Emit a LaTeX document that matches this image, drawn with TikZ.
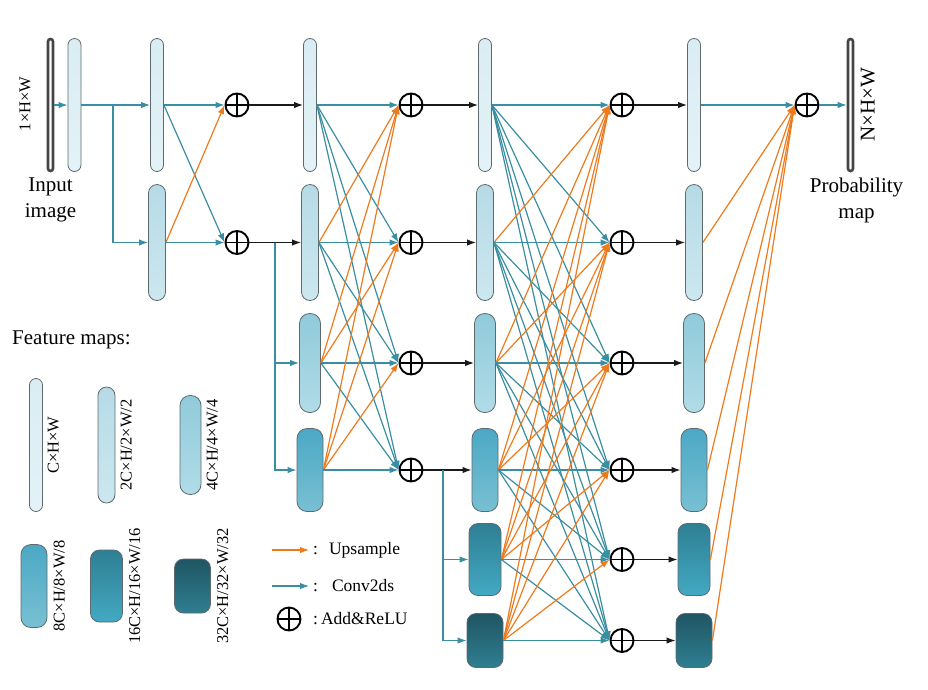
\documentclass[tikz,border=0pt]{standalone}
\usepackage{fontspec}
\setmainfont{Liberation Serif}
\usepackage{xcolor}
\definecolor{convColor}{HTML}{3A8EA1}
\definecolor{upColor}{HTML}{EE7A1E}
\definecolor{addColor}{HTML}{1A1A1A}
\definecolor{mapBorder}{HTML}{5F6A6E}
\definecolor{imgBorder}{HTML}{454545}
\definecolor{mapOneTop}{HTML}{DAEDF3}
\definecolor{mapOneBot}{HTML}{E3F2F7}
\definecolor{mapTwoTop}{HTML}{B6DBE6}
\definecolor{mapTwoBot}{HTML}{CCE7EF}
\definecolor{mapThreeTop}{HTML}{90CAD9}
\definecolor{mapThreeBot}{HTML}{B0DCE7}
\definecolor{mapFourTop}{HTML}{4BA8C4}
\definecolor{mapFourBot}{HTML}{79C0D3}
\definecolor{mapFiveTop}{HTML}{2E7F93}
\definecolor{mapFiveBot}{HTML}{43A9C3}
\definecolor{mapSixTop}{HTML}{205564}
\definecolor{mapSixBot}{HTML}{2F7F91}
\usepackage{tikz}
\usetikzlibrary{positioning,calc,arrows.meta}
\tikzset{
  mapBase/.style={
    rectangle,
    draw=mapBorder,
    line width=0.8pt,
    inner sep=0pt
 },
  map1/.style={mapBase, minimum width=13pt, minimum height=133pt, rounded corners=6.5pt,
    top color=mapOneTop, bottom color=mapOneBot},
  map2/.style={mapBase, minimum width=17pt, minimum height=116pt, rounded corners=8.5pt,
    top color=mapTwoTop, bottom color=mapTwoBot},
  map3/.style={mapBase, minimum width=21pt, minimum height=99pt, rounded corners=10pt,
    top color=mapThreeTop, bottom color=mapThreeBot},
  map4/.style={mapBase, minimum width=26pt, minimum height=83pt, rounded corners=10pt,
    top color=mapFourTop, bottom color=mapFourBot},
  map5/.style={mapBase, minimum width=32pt, minimum height=72pt, rounded corners=9pt,
    top color=mapFiveTop, bottom color=mapFiveBot},
  map6/.style={mapBase, minimum width=36pt, minimum height=54pt, rounded corners=9pt,
    top color=mapSixTop, bottom color=mapSixBot},
  imgBar/.style={
    rectangle,
    draw=imgBorder,
    fill=white,
    line width=2.6pt,
    minimum width=5pt,
    minimum height=132pt,
    rounded corners=2.5pt,
    inner sep=0pt
 },
  addNode/.style={
    circle,
    draw=black,
    line width=1.9pt,
    minimum size=23pt,
    inner sep=0pt,
    path picture={
      \draw[line width=1.4pt] (path picture bounding box.north) -- (path picture bounding box.south);
      \draw[line width=1.4pt] (path picture bounding box.west) -- (path picture bounding box.east);
    }
 },
  convArrow/.style={
    -{Latex[length=9pt,width=6.5pt]},
    line width=1.2pt,
    color=convColor
 },
  upArrow/.style={
    -{Latex[length=9pt,width=6.5pt]},
    line width=1.2pt,
    color=upColor
 },
  addArrow/.style={
    -{Latex[length=9pt,width=6.5pt]},
    line width=1.4pt,
    color=addColor
 },
  bigText/.style={font=\fontsize{21}{26.5}\selectfont, inner sep=0pt, align=center},
  dimText/.style={font=\fontsize{16.5}{20}\selectfont, inner sep=0pt},
  legendText/.style={font=\fontsize{17.5}{21}\selectfont, inner sep=0pt}
}

\begin{document}
\begin{tikzpicture}[x=1pt,y=-1pt]
  \useasboundingbox (0,0) rectangle (928,689);

  % feature maps of the four stages
  \foreach \c/\x/\n in {1/157/2, 2/310/4, 3/485/6, 4/694/6}
    \foreach \r/\y in {1/105, 2/242.5, 3/363, 4/470, 5/559.5, 6/640.5}
      {\ifnum\r>\n\else \node[map\r] (b\c\r) at (\x,\y) {}; \fi}

  % add and relu
  \foreach \c/\x/\n in {1/237/2, 2/411/4, 3/622/6, 4/807/1}
    \foreach \r/\y in {1/105, 2/242.5, 3/363, 4/470, 5/559.5, 6/640.5}
      {\ifnum\r>\n\else \node[addNode] (s\c\r) at (\x,\y) {}; \fi}

  % input and output
  \node[imgBar] (inImg) at (50.5,105) {};
  \node[map1] (inMap) at (74.5,105) {};
  \node[imgBar] (outMap) at (850.5,105) {};
  \node[dimText, rotate=90] (inDim) at (25,104) {1×H×W};
  \node[bigText, rotate=90] (outDim) at (868,105) {N×H×W};
  \node[bigText, below=5pt of inImg] (inLabel) {Input\\image};
  \node[bigText, below=5pt of outMap, xshift=6pt] (outLabel) {Probability\\map};

  \draw[convArrow] (inImg.east) -- (inMap.west);
  \draw[convArrow] (inMap.east) -- (b11.west);
  \coordinate (jIn) at (113,105);
  \draw[convArrow] (jIn) |- (b12.west);

  % every map to every sum of its stage
  \foreach \c/\n in {1/2, 2/4, 3/6}
    \foreach \i in {1,...,\n}
      \foreach \j in {1,...,\n}
        {\ifnum\i>\j \draw[upArrow] (b\c\i.east) -- (s\c\j.west);
         \else \draw[convArrow] (b\c\i.east) -- (s\c\j.west); \fi}

  \foreach \c/\d/\n in {1/2/2, 2/3/4, 3/4/6}
    \foreach \j in {1,...,\n}
      {\draw[addArrow] (s\c\j.east) -- (b\d\j.west);}

  % new branches
  \coordinate (jTwo) at (275,242.5);
  \draw[convArrow] (jTwo) |- (b23.west);
  \draw[convArrow] (jTwo) |- (b24.west);
  \coordinate (jThree) at (443,470);
  \draw[convArrow] (jThree) |- (b35.west);
  \draw[convArrow] (jThree) |- (b36.west);

  % last fusion
  \draw[convArrow] (b41.east) -- (s41.west);
  \foreach \i in {2,...,6}
    {\draw[upArrow] (b4\i.east) -- (s41.west);}
  \draw[convArrow] (s41.east) -- (outMap.west);

  % legend
  \node[bigText, anchor=west] (fmTitle) at (12,340) {Feature maps:};
  \node[map1] (lg1) at (36,445) {};
  \node[map2] (lg2) at (106.5,445) {};
  \node[map3] (lg3) at (190.5,445) {};
  \node[map4] (lg4) at (34,586) {};
  \node[map5] (lg5) at (106.5,586) {};
  \node[map6] (lg6) at (192.5,586) {};
  \node[dimText, rotate=90, anchor=north] (lg1t) at ($(lg1.east)+(4.5,0)$) {C×H×W};
  \node[dimText, rotate=90, anchor=north] (lg2t) at ($(lg2.east)+(5,0)$) {2C×H/2×W/2};
  \node[dimText, rotate=90, anchor=north] (lg3t) at ($(lg3.east)+(5,0)$) {4C×H/4×W/4};
  \node[dimText, rotate=90, anchor=north] (lg4t) at ($(lg4.east)+(6,0)$) {8C×H/8×W/8};
  \node[dimText, rotate=90, anchor=north] (lg5t) at ($(lg5.east)+(6,0)$) {16C×H/16×W/16};
  \node[dimText, rotate=90, anchor=north] (lg6t) at ($(lg6.east)+(6,0)$) {32C×H/32×W/32};

  \coordinate (upFrom) at (272,550);
  \coordinate (upTo) at (309,550);
  \draw[upArrow] (upFrom) -- (upTo);
  \node[legendText, anchor=west] (upText) at (313,550) {:\hspace{11pt}Upsample};
  \coordinate (convFrom) at (272,586);
  \coordinate (convTo) at (309,586);
  \draw[convArrow] (convFrom) -- (convTo);
  \node[legendText, anchor=west] (convText) at (313,586) {:\hspace{14pt}Conv2ds};
  \node[addNode] (lgAdd) at (289,619) {};
  \node[legendText, anchor=west] (addText) at (313,619) {:\hspace{3pt}Add\&ReLU};
\end{tikzpicture}
\end{document}
